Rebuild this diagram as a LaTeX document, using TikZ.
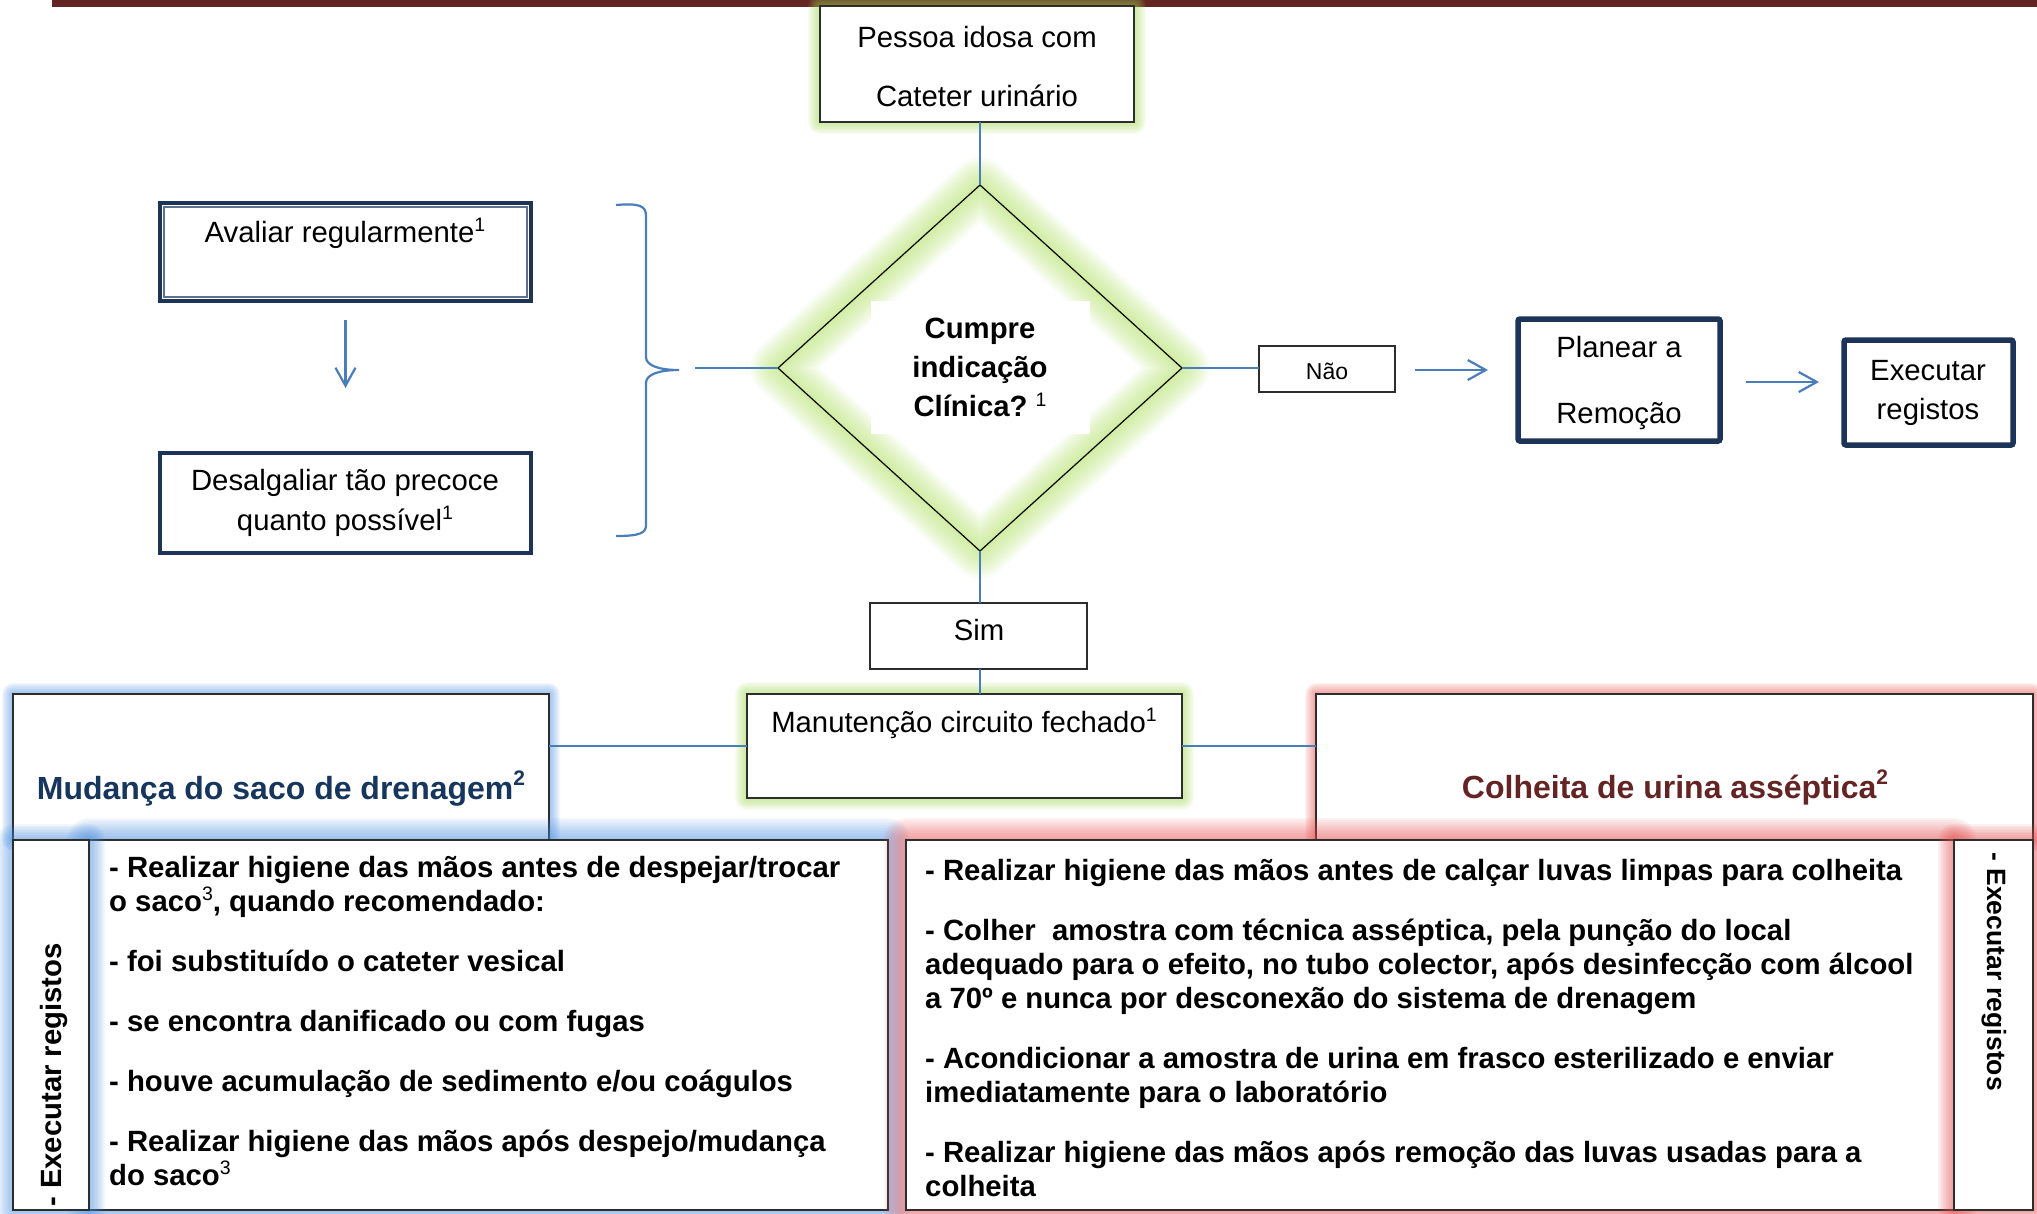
\documentclass[tikz,border=0pt]{standalone}
\usepackage{fontspec}
\setmainfont{Liberation Sans}
\usetikzlibrary{shapes.geometric, arrows.meta, calc, fit}

\definecolor{lineblue}{RGB}{74,126,187}
\definecolor{navy}{RGB}{29,52,89}
\definecolor{titlenavy}{RGB}{23,54,93}
\definecolor{wine}{RGB}{99,36,35}
\definecolor{boxline}{RGB}{45,45,45}
\definecolor{glowgreen}{RGB}{158,214,80}
\definecolor{glowlime}{RGB}{172,222,92}
\definecolor{glowblue}{RGB}{77,145,225}
\definecolor{glowred}{RGB}{232,80,80}

% small raised reference numbers
\newcommand{\supr}[1]{\raisebox{0.35em}{\fontsize{19.5}{19.5}\selectfont\mdseries #1}}
\newcommand{\supt}[1]{\raisebox{0.42em}{\fontsize{21}{21}\selectfont #1}}

% soft halo around a rectangle: colour, radius, top-left, bottom-right
\newcommand{\glowrect}[4]{%
  \foreach \gk in {1,...,10}{%
    \pgfmathsetmacro{\gd}{\gk*#2/10}%
    \fill[#1, opacity=0.07, rounded corners=\gd pt]
      ($(#3)+(-\gd,-\gd)$) rectangle ($(#4)+(\gd,\gd)$);
  }}

\begin{document}
\begin{tikzpicture}[x=1pt, y=-1pt,
  conn/.style={draw=lineblue, line width=2.2pt},
  arr/.style={conn, -{Straight Barb[length=18pt, width=20pt]}},
  thinbox/.style={draw=boxline, line width=1.8pt, fill=white, inner sep=0pt, outer sep=0pt},
  navybox/.style={draw=navy, line width=4.5pt, fill=white, inner sep=0pt, outer sep=0pt},
  txt/.style={inner sep=0pt, anchor=base, font=\fontsize{29.3}{34}\selectfont},
  btxt/.style={inner sep=0pt, anchor=base, font=\bfseries\fontsize{29.3}{34}\selectfont},
  ttl/.style={inner sep=0pt, anchor=base, font=\bfseries\fontsize{32}{38}\selectfont},
  item/.style={btxt, anchor=base west},
]
\useasboundingbox (0,0) rectangle (2037,1213);

% header rule
\fill[wine] (52,0) rectangle (2037,7);

% start box
\glowrect{glowgreen}{12}{820,6}{1134,122}
\node[thinbox, fit={(820,6)(1134,122)}] (top) {};

% decision
\node[diamond, minimum width=404pt, minimum height=366pt, inner sep=0pt, outer sep=0pt] (dia) at (980,368) {};
\foreach \gk in {1,...,14}{%
  \pgfmathsetmacro{\gw}{\gk*4}%
  \draw[glowlime, opacity=0.055, line width=\gw pt, line join=round]
    (dia.north) -- (dia.east) -- (dia.south) -- (dia.west) -- cycle;
}
\draw[black, line width=1.2pt] (dia.north) -- (dia.east) -- (dia.south) -- (dia.west) -- cycle;
\node[fill=white, inner sep=0pt, minimum width=219pt, minimum height=133pt] (qbox) at (980,367.5) {};

% left column
\node[navybox, fit={(160,203)(531,301)}] (av) {};
\draw[navy!70, line width=1.3pt] ($(av.north west)+(4,4)$) rectangle ($(av.south east)+(-4,-4)$);
\node[navybox, fit={(160,453)(531,553)}] (des) {};
\draw[arr] ($(av.south)+(0,19)$) -- ($(des.north)+(0,-65)$);

% brace gathering the left column
\draw[conn] (616,205) .. controls (640,203) and (646,206) .. (646,216) -- (646,357)
  .. controls (646,366) and (660,370) .. (679,370)
  .. controls (660,370) and (646,374) .. (646,383) -- (646,525)
  .. controls (646,533) and (640,536) .. (616,536);
\coordinate (bt) at (695,368);
\draw[conn] (bt) -- (dia.west);

% "no" branch
\node[thinbox, fit={(1259,346)(1395,392)}] (nao) {};
\node[navybox, line width=5.5pt, rounded corners=2pt, fit={(1518,319)(1720,441)}] (plan) {};
\node[navybox, line width=5.5pt, rounded corners=2pt, fit={(1844,340)(2013,445)}] (exe) {};
\draw[conn] (dia.east) -- (dia.east -| nao.west);
\draw[arr] ($(nao.east)+(20,1)$) -- ++(73,0);
\draw[arr] ($(plan.east)+(26,2)$) -- ++(73,0);

% "yes" branch
\node[thinbox, fit={(870,603)(1087,669)}] (sim) {};
\glowrect{glowgreen}{12}{747,694}{1182,798}
\node[thinbox, fit={(747,694)(1182,798)}] (manut) {};
\glowrect{glowblue}{11}{13,694}{549,840}
\node[thinbox, fit={(13,694)(549,840)}] (mud) {};
\glowrect{glowred}{11}{1316,694}{2033,841}
\node[thinbox, fit={(1316,694)(2033,841)}] (col) {};

\draw[conn] (top.south -| dia.north) -- (dia.north);
\draw[conn] (dia.south) -- (sim.north -| dia.south);
\draw[conn] (sim.south -| dia.south) -- (manut.north -| dia.south);
\draw[conn] (manut.west) -- (manut.west -| mud.east);
\draw[conn] (manut.east) -- (manut.east -| col.west);

% detail panels
\glowrect{glowblue}{22}{89,840}{888,1210}
\node[thinbox, fit={(89,840)(888,1210)}] (ltext) {};
\glowrect{glowblue}{16}{13,840}{89,1210}
\node[thinbox, fit={(13,840)(89,1210)}] (lreg) {};
\glowrect{glowred}{22}{906,840}{1954,1210}
\node[thinbox, fit={(906,840)(1954,1210)}] (rtext) {};
\glowrect{glowred}{16}{1954,840}{2033,1210}
\node[thinbox, fit={(1954,840)(2033,1210)}] (rreg) {};

% texts
\node[txt] (t1) at (977,47) {Pessoa idosa com};
\node[txt] (t2) at (977,106) {Cateter urinário};
\node[btxt] (q1) at (980,338) {Cumpre};
\node[btxt] (q2) at (980,377.5) {indicação};
\node[btxt] (q3) at (980,416.5) {Clínica?\ \supr{1}};
\node[txt] (avt) at (345,242) {Avaliar regularmente\supr{1}};
\node[txt] (de1) at (345,490) {Desalgaliar tão precoce};
\node[txt] (de2) at (345,530) {quanto possível\supr{1}};
\node[txt, font=\fontsize{23}{27}\selectfont] (naot) at (1327,379) {Não};
\node[txt] (pl1) at (1619,357) {Planear a};
\node[txt] (pl2) at (1619,423) {Remoção};
\node[txt] (ex1) at (1928,380) {Executar};
\node[txt] (ex2) at (1928,419) {registos};
\node[txt] (simt) at (979,640) {Sim};
\node[txt] (mant) at (964,732) {Manutenção circuito fechado\supr{1}};
\node[ttl, text=titlenavy] (mudt) at (281,799) {Mudança do saco de drenagem\supt{2}};
\node[ttl, text=wine] (colt) at (1675,798) {Colheita de urina asséptica\supt{2}};

\node[item] (l1) at (109,877) {- Realizar higiene das mãos antes de despejar/trocar};
\node[item] (l2) at (109,911) {o saco\supr{3}, quando recomendado:};
\node[item] (l3) at (109,971) {- foi substituído o cateter vesical};
\node[item] (l4) at (109,1031) {- se encontra danificado ou com fugas};
\node[item] (l5) at (109,1091) {- houve acumulação de sedimento e/ou coágulos};
\node[item] (l6) at (109,1151) {- Realizar higiene das mãos após despejo/mudança};
\node[item] (l7) at (109,1185) {do saco\supr{3}};

\node[item] (r1) at (925,880) {- Realizar higiene das mãos antes de calçar luvas limpas para colheita};
\node[item] (r2) at (925,940) {- Colher\ \ amostra com técnica asséptica, pela punção do local};
\node[item] (r3) at (925,974) {adequado para o efeito, no tubo colector, após desinfecção com álcool};
\node[item] (r4) at (925,1008) {a 70º e nunca por desconexão do sistema de drenagem};
\node[item] (r5) at (925,1068) {- Acondicionar a amostra de urina em frasco esterilizado e enviar};
\node[item] (r6) at (925,1102) {imediatamente para o laboratório};
\node[item] (r7) at (925,1162) {- Realizar higiene das mãos após remoção das luvas usadas para a};
\node[item] (r8) at (925,1196) {colheita};

\node[btxt, rotate=90, anchor=base west] (lrt) at (61,1207) {- Executar registos};
\node[btxt, font=\bfseries\fontsize{26.5}{30}\selectfont, rotate=-90, anchor=base west] (rrt) at (1987,852) {- Executar registos};
\end{tikzpicture}
\end{document}
